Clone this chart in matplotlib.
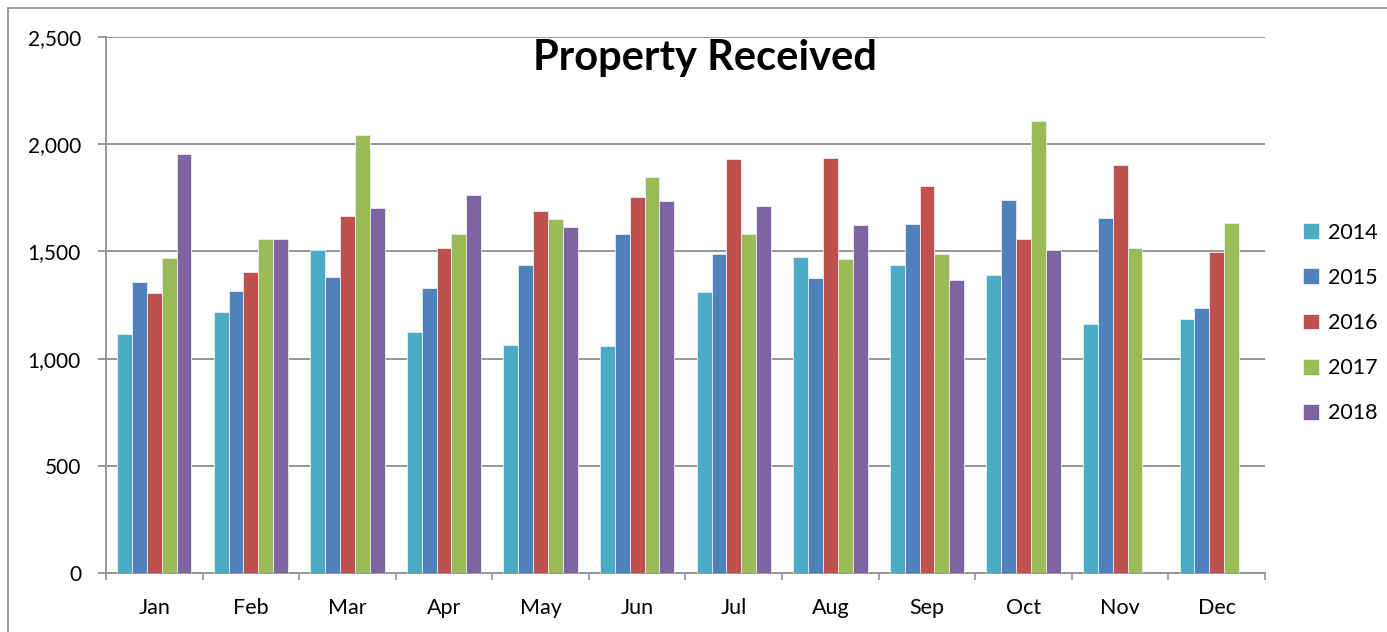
import numpy as np
import matplotlib.pyplot as plt
from matplotlib.patches import Rectangle

months = ["Jan", "Feb", "Mar", "Apr", "May", "Jun",
          "Jul", "Aug", "Sep", "Oct", "Nov", "Dec"]
years = ["2014", "2015", "2016", "2017", "2018"]

v2014 = [1117, 1216, 1505, 1126, 1065, 1059, 1309, 1476, 1435, 1392, 1161, 1187]
v2015 = [1359, 1313, 1379, 1331, 1435, 1579, 1490, 1376, 1630, 1739, 1658, 1235]
v2016 = [1308, 1403, 1667, 1516, 1687, 1753, 1931, 1936, 1807, 1558, 1905, 1499]
v2017 = [1471, 1558, 2042, 1579, 1651, 1845, 1581, 1465, 1487, 2106, 1515, 1631]
v2018 = [1953, 1558, 1703, 1765, 1614, 1734, 1714, 1621, 1365, 1507, np.nan, np.nan]

series = [v2014, v2015, v2016, v2017, v2018]
colors = ["#4BACC6", "#4F81BD", "#C0504D", "#9BBB59", "#8064A2"]

plt.rcParams["font.family"] = ["Lato", "DejaVu Sans"]

W, H = 1387, 632
fig = plt.figure(figsize=(W / 100, H / 100), dpi=100)

# outer chart border
fig.patches.append(Rectangle((8 / W, -0.05), 1.2, 1 - 8 / H + 0.05,
                             transform=fig.transFigure, fill=False,
                             edgecolor="#8c8c8c", linewidth=1.2))

left, right, top, bottom = 106, 1265, 37, 573
ax = fig.add_axes((left / W, 1 - bottom / H, (right - left) / W, (bottom - top) / H))

x = np.arange(len(months))
bw = 1 / 6.5
for i, (vals, c, yr) in enumerate(zip(series, colors, years)):
    ax.bar(x + (i - 2) * bw, vals, width=bw, color=c, edgecolor="#e8eef4",
           linewidth=0.6, label=yr, zorder=3)

ax.set_xlim(-0.5, 11.5)
ax.set_ylim(0, 2500)
ax.set_yticks(range(0, 2501, 500))
ax.set_yticklabels([f"{v:,}" for v in range(0, 2501, 500)])
ax.grid(axis="y", color="#969696", linewidth=1.4, zorder=0)

ax.set_xticks(x)
ax.set_xticklabels(months)
ax.set_xticks(np.arange(-0.5, 12, 1), minor=True)
ax.tick_params(axis="x", which="major", length=0, pad=18, labelsize=15.5)
ax.tick_params(axis="x", which="minor", length=5, width=1.2, color="#969696", direction="out")
ax.tick_params(axis="y", length=6, width=1.4, color="#969696", pad=12, labelsize=15)

for s in ["top", "right"]:
    ax.spines[s].set_visible(False)
for s in ["left", "bottom"]:
    ax.spines[s].set_color("#969696")
    ax.spines[s].set_linewidth(1.4)

fig.text(705 / W, 1 - 58 / H, "Property Received", ha="center", va="center",
         fontsize=30, fontweight="bold")

handles, labels = ax.get_legend_handles_labels()
fig.legend(handles, labels, loc="center left", bbox_to_anchor=(1292 / W, 1 - 323 / H),
           frameon=False, fontsize=15.5, handlelength=0.75, handleheight=0.75,
           handletextpad=0.4, labelspacing=1.17, borderpad=0)

fig.savefig("out.png", dpi=100)
